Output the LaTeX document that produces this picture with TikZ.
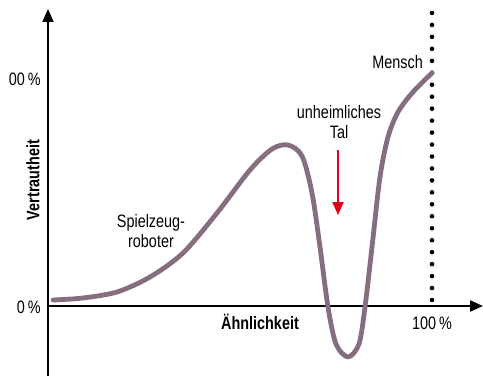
\documentclass[tikz,border=0pt]{standalone}
\usepackage{fontspec}
\setmainfont{Liberation Sans}[FakeStretch=0.8]
\usetikzlibrary{arrows.meta,positioning}

\definecolor{kurve}{RGB}{134,110,128}
\definecolor{talrot}{RGB}{226,0,26}

\begin{document}
\begin{tikzpicture}[
        x=1pt, y=1pt,
        >={Triangle[length=13pt,width=11pt]},
        every node/.style={font=\fontsize{18}{20}\selectfont, align=center, inner sep=1pt},
        achse/.style={line width=2pt},
        titel/.style={font=\fontsize{18}{20}\selectfont\bfseries}
        ]
        \useasboundingbox (0,0) rectangle (483,376);

        % axes
        \coordinate (ursprung) at (48,70);
        \coordinate (yunten)   at (48,0);
        \coordinate (yoben)    at (48,367);
        \coordinate (xrechts)  at (483,70);
        \draw[achse,->] (yunten) -- (yoben);
        \draw[achse,->] (ursprung) -- (xrechts);

        % 100 % line
        \coordinate (dtop) at (432,363);
        \coordinate (dbot) at (432,76);
        \draw[line width=4.6pt, line cap=round, dash pattern=on 0pt off 11.958pt] (dtop) -- (dbot);

        % labels
        \node[anchor=east] (hundert) at (42,297) {00\,\%};
        \node[anchor=east] (null)    at (42,69)  {0\,\%};
        \node (voll)    at (432,53)  {100\,\%};
        \node[titel] (aehnl) at (260,54) {Ähnlichkeit};
        \node[titel, rotate=90] (vertr) at (33,196) {Vertrautheit};
        \node (spiel)   at (151,145) {Spielzeug-\\roboter};
        \node (tal)     at (339,254) {unheimliches\\Tal};
        \node[anchor=east] (mensch) at (424,314) {Mensch};

        % valley arrow
        \coordinate (talspitze) at (338,161);
        \draw[talrot, line width=2pt, -{Triangle[length=13pt,width=11pt]}] (338,226) -- (talspitze);

        % curve
        \draw[kurve, line width=4.8pt, line cap=round, line join=round]
          plot[smooth, tension=0.5] coordinates {
            (53,76) (83,78) (117,84) (150,99) (183,123) (217,163) (250,206)
            (272,227) (288,231) (302,220) (312,183) (320,129) (328,69)
            (336,32) (348,19) (359,32) (365,69) (372,129) (380,199)
            (388,239) (398,264) (413,284) (432,303)};
      \end{tikzpicture}
\end{document}
